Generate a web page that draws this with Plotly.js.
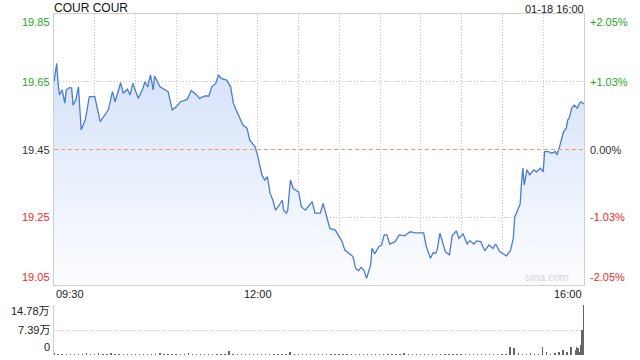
<!DOCTYPE html>
<html>
<head>
<meta charset="utf-8">
<script src="https://cdn.plot.ly/plotly-3.0.1.min.js"></script>
<style>html,body{margin:0;padding:0;background:#fff;}#chart{width:640px;height:360px;}</style>
</head>
<body>
<div id="chart"></div>
<script>
// ---- data ----
const titleText = 'COUR COUR';
const stampText = '01-18 16:00';
const prevClose = 19.45;
// minutes after 09:30 open
const minutes = [0,2,3,4,6,8,9,11,13,14,16,18,20,23,26,30,34,38,40,43,45,49,51,54,56,58,62,65,67,69,71,73,74,78,84,87,90,93,98,101,105,107,111,114,116,119,121,123,127,130,132,134,137,139,142,144,148,150,153,155,157,159,161,163,165,168,169,171,172,174,176,180,182,185,187,190,192,196,198,201,203,207,209,212,214,217,220,222,224,226,228,230,233,234,236,239,241,243,245,247,251,254,258,262,266,272,274,277,279,281,282,284,286,288,291,293,296,298,301,304,306,309,311,314,317,320,323,325,328,331,333,336,338,339,343,344,345,346,348,350,353,355,358,360,361,364,366,369,370,372,375,377,378,379,381,383,385,387,388,390];
const prices = [19.650,19.704,19.645,19.611,19.626,19.587,19.626,19.632,19.632,19.581,19.596,19.635,19.508,19.537,19.606,19.606,19.532,19.558,19.567,19.621,19.591,19.647,19.616,19.628,19.611,19.645,19.601,19.626,19.650,19.635,19.670,19.626,19.667,19.635,19.621,19.567,19.576,19.591,19.598,19.624,19.611,19.601,19.608,19.608,19.635,19.645,19.670,19.660,19.655,19.635,19.586,19.567,19.537,19.522,19.513,19.478,19.458,19.429,19.375,19.360,19.370,19.321,19.301,19.271,19.281,19.301,19.271,19.262,19.271,19.360,19.335,19.325,19.281,19.271,19.281,19.296,19.262,19.262,19.291,19.242,19.217,19.212,19.198,19.178,19.153,19.144,19.134,19.099,19.092,19.102,19.094,19.070,19.109,19.158,19.142,19.163,19.168,19.198,19.198,19.171,19.178,19.198,19.195,19.207,19.204,19.204,19.163,19.129,19.145,19.144,19.155,19.203,19.173,19.148,19.139,19.195,19.210,19.188,19.201,19.171,19.181,19.171,19.180,19.178,19.151,19.168,19.158,19.171,19.148,19.142,19.136,19.153,19.188,19.250,19.289,19.350,19.395,19.345,19.390,19.375,19.390,19.384,19.395,19.384,19.444,19.444,19.439,19.444,19.434,19.458,19.503,19.513,19.537,19.542,19.572,19.581,19.572,19.588,19.591,19.584];
const volMinutes = [0,3,6,9,12,15,18,21,24,27,30,33,36,39,42,45,48,51,54,57,60,63,66,69,72,75,78,81,84,87,90,93,96,99,102,105,108,111,114,117,120,123,126,129,132,135,138,141,144,147,150,153,156,159,162,165,168,171,174,177,180,183,186,189,192,195,198,201,204,207,210,213,216,219,222,225,228,231,234,237,240,243,246,249,252,255,258,261,264,267,270,273,276,279,282,285,288,291,294,297,300,303,306,309,312,315,318,321,324,327,330,333,336,339,342,345,348,351,354,357,360,363,366,369,372,375,378,381,384,385,386,387,388,389,390];
const volumes = [5000,3500,2500,4000,3000,2000,3500,2500,4500,3000,
  2500,6000,3000,2000,5000,2500,3000,4000,2000,3000,
  2500,2000,3500,3000,2500,2000,4500,3000,2500,3500,
  2000,3000,2500,5000,3000,2000,2500,3500,3000,2500,
  3000,4000,2500,11000,3000,3500,2500,3000,4000,2500,
  3500,3000,2500,4000,3000,2500,3000,3500,10000,3000,
  2500,3000,3500,2500,3000,2000,2500,3500,3000,2500,
  3000,4000,3000,2500,3500,3000,2500,3000,4000,2500,
  3000,2500,3500,3000,2500,3000,4500,2500,3000,3500,
  2500,3000,3500,2500,3000,3500,4000,3000,2500,3000,
  3500,2500,3000,4000,3000,2500,3500,3000,2500,3000,
  3500,4000,24600,19700,5000,4000,3500,4500,3000,4000,
  24600,10000,4000,6000,10000,14800,8000,24600,14800,
  24600,19700,10000,29600,73900,147800];
const priceTicks = [19.85,19.65,19.45,19.25,19.05];
const pctLabels = ['+2.05%','+1.03%','0.00%','-1.03%','-2.05%'];
const volTicks = [147800,73900,0];
const volLabels = ['14.78万','7.39万','0'];
const timeTicks = [0,150,390];
const timeLabels = ['09:30','12:00','16:00'];
const gridMinutes = [30,60,90,120,150,180,210,240,270,300,330,360];

// ---- styles ----
const FONT = 'Liberation Sans, Arial, Noto Sans CJK SC, sans-serif';
const UP = '#1ea81e', DOWN = '#f0281e', FLAT = '#333333';
function tickColor(v){ return v > prevClose + 1e-9 ? UP : (v < prevClose - 1e-9 ? DOWN : FLAT); }
function vAnchor(i, n){ return i === 0 ? 'top' : (i === n - 1 ? 'bottom' : 'middle'); }

const ann = [];
priceTicks.forEach((v, i) => {
  const c = tickColor(v);
  ann.push({xref:'paper', yref:'y', x:0, y:v, xanchor:'right', yanchor:vAnchor(i, priceTicks.length),
    xshift:-2, text:v.toFixed(2), showarrow:false, font:{family:FONT, size:11, color:c}});
  ann.push({xref:'paper', yref:'y', x:1, y:v, xanchor:'left', yanchor:vAnchor(i, priceTicks.length),
    xshift:4, text:pctLabels[i], showarrow:false, font:{family:FONT, size:11, color:c}});
});
volTicks.forEach((v, i) => {
  ann.push({xref:'paper', yref:'y2', x:0, y:v, xanchor:'right', yanchor:vAnchor(i, volTicks.length),
    xshift:-2, yshift: i === 0 ? 2 : 0, text:volLabels[i], showarrow:false, font:{family:FONT, size:11, color:'#222'}});
});
timeTicks.forEach((t, i) => {
  ann.push({xref:'x', yref:'paper', x:t, y:0.2053, xanchor: i === 0 ? 'left' : (i === timeTicks.length - 1 ? 'right' : 'center'),
    yanchor:'top', yshift:-1, text:timeLabels[i], showarrow:false, font:{family:FONT, size:11, color:'#222'}});
});
ann.push({xref:'paper', yref:'paper', x:0, y:1, xanchor:'left', yanchor:'bottom', yshift:-3, xshift:-2,
  text:titleText, showarrow:false, font:{family:FONT, size:12, color:'#111'}});
ann.push({xref:'paper', yref:'paper', x:1, y:1, xanchor:'right', yanchor:'bottom', yshift:-3, xshift:2,
  text:stampText, showarrow:false, font:{family:FONT, size:11, color:'#222'}});
ann.push({xref:'paper', yref:'y', x:0.975, y:19.05, xanchor:'right', yanchor:'bottom', yshift:0,
  text:'sina.com', showarrow:false, font:{family:FONT, size:11, color:'#d4d4d4'}});

const traces = [
  {x:minutes, y:prices, type:'scatter', mode:'lines', xaxis:'x', yaxis:'y',
   line:{color:'#4a7cd2', width:1.3}, fill:'tozeroy',
   fillgradient:{type:'vertical', start:19.05, stop:19.72,
     colorscale:[[0,'rgb(252,253,255)'],[1,'rgb(212,225,249)']]},
   hoverinfo:'skip'},
  {x:volMinutes, y:volumes, type:'bar', xaxis:'x2', yaxis:'y2',
   marker:{color:'#666666', line:{width:0}}, width:1.0, hoverinfo:'skip'}
];

const layout = {
  width:640, height:360,
  margin:{l:54, r:56, t:14, b:5},
  paper_bgcolor:'#fff', plot_bgcolor:'rgba(0,0,0,0)',
  showlegend:false,
  xaxis:{domain:[0,1], anchor:'y', range:[0,390], tickvals:gridMinutes, showticklabels:false, ticks:'',
    showgrid:true, gridcolor:'#c8c8c8', griddash:'1px,2px', gridwidth:1, zeroline:false,
    showline:true, linecolor:'#cfcfcf', linewidth:1, mirror:true},
  yaxis:{domain:[0.2053,1], anchor:'x', range:[19.05,19.85], tickvals:[19.65,19.25], showticklabels:false, ticks:'',
    showgrid:true, gridcolor:'#c8c8c8', griddash:'1px,2px', gridwidth:1, zeroline:false,
    showline:true, linecolor:'#cfcfcf', linewidth:1, mirror:true},
  xaxis2:{domain:[0,1], anchor:'y2', range:[0,390.5], showticklabels:false, ticks:'', showgrid:false, zeroline:false, showline:false},
  yaxis2:{domain:[0,0.1466], anchor:'x2', range:[0,147800], tickvals:[73900,147800], showticklabels:false, ticks:'',
    showgrid:true, gridcolor:'#c8c8c8', griddash:'1px,2px', gridwidth:1, zeroline:false,
    showline:true, linecolor:'#cfcfcf', linewidth:1, mirror:false},
  shapes:[
    {type:'line', xref:'x', yref:'y', x0:0, x1:390, y0:prevClose, y1:prevClose,
     line:{color:'#ef9a66', width:1, dash:'4px,3px'}, layer:'above'}
  ],
  annotations:ann,
  bargap:0
};

Plotly.newPlot('chart', traces, layout, {displayModeBar:false, staticPlot:true});
</script>
</body>
</html>
